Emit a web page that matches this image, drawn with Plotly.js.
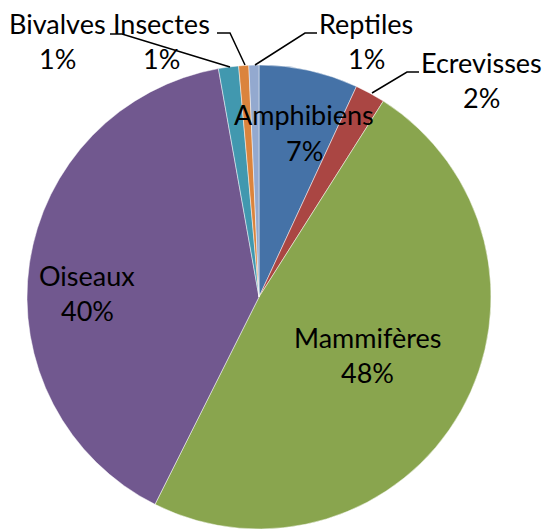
<!DOCTYPE html>
<html>
<head>
<meta charset="utf-8">
<script src="https://cdn.plot.ly/plotly-3.0.1.min.js"></script>
<style>html,body{margin:0;padding:0;background:#fff;}#chart{width:542px;height:529px;}</style>
</head>
<body>
<div id="chart"></div>
<script>
// Data (clockwise from 12 o'clock)
const categories = ["Amphibiens", "Ecrevisses", "Mammifères", "Oiseaux", "Bivalves", "Insectes", "Reptiles"];
const values = [6.9, 2.1, 48.4, 39.8, 1.4, 0.7, 0.7];
const colors = ["#4572A7", "#AA4643", "#89A54E", "#71588F", "#4198AF", "#DB843D", "#93A9CF"];

const total = values.reduce((a, b) => a + b, 0);
const pctLabels = values.map(v => Math.round(v / total * 100) + "%");

// Figure geometry
const FW = 542, FH = 529;
const M = {l: 27, r: 51, t: 65, b: 0, pad: 0};
const W = FW - M.l - M.r, H = FH - M.t - M.b;
const px = x => (x - M.l) / W;
const py = y => 1 - (y - M.t) / H;

// Label placement (center x, baseline y of first line), line gap, and leader lines
const labelPos = {
  "Amphibiens": [304, 125],
  "Ecrevisses": [481, 72],
  "Mammifères": [367, 347],
  "Oiseaux": [87, 285],
  "Bivalves": [57, 34],
  "Insectes": [161, 34],
  "Reptiles": [366, 34]
};
const lineGap = 35;
const leaders = {
  "Bivalves": [[110, 34], [122, 34], [230, 67]],
  "Insectes": [[217, 33], [230, 33], [245, 65]],
  "Reptiles": [[317, 33], [305, 33], [255, 65]],
  "Ecrevisses": [[419, 72], [407, 72], [372, 93]]
};

const FONT = {family: "Lato, 'Open Sans', sans-serif", size: 27, color: "#000"};
const annotations = [];
categories.forEach((c, i) => {
  const [cx, by] = labelPos[c];
  annotations.push({xref: "paper", yref: "paper", x: px(cx), y: py(by - 10), text: c,
    showarrow: false, xanchor: "center", yanchor: "middle", font: FONT});
  annotations.push({xref: "paper", yref: "paper", x: px(cx), y: py(by + lineGap - 10), text: pctLabels[i],
    showarrow: false, xanchor: "center", yanchor: "middle", font: FONT});
});

const shapes = Object.keys(leaders).map(k => {
  const pts = leaders[k];
  const d = pts.map((p, j) => (j === 0 ? "M" : "L") + px(p[0]) + "," + py(p[1])).join(" ");
  return {type: "path", xref: "paper", yref: "paper", path: d, line: {color: "#000", width: 1.5}};
});

const trace = {
  type: "pie",
  labels: categories,
  values: values,
  sort: false,
  direction: "clockwise",
  rotation: 0,
  textinfo: "none",
  hoverinfo: "label+percent",
  marker: {colors: colors, line: {color: "rgba(255,255,255,0.6)", width: 0.8}},
  domain: {x: [0, 1], y: [0, 1]}
};

const layout = {
  width: FW, height: FH,
  margin: M,
  showlegend: false,
  paper_bgcolor: "#fff",
  plot_bgcolor: "#fff",
  annotations: annotations,
  shapes: shapes
};

Plotly.newPlot("chart", [trace], layout, {displayModeBar: false, staticPlot: true});
</script>
</body>
</html>
